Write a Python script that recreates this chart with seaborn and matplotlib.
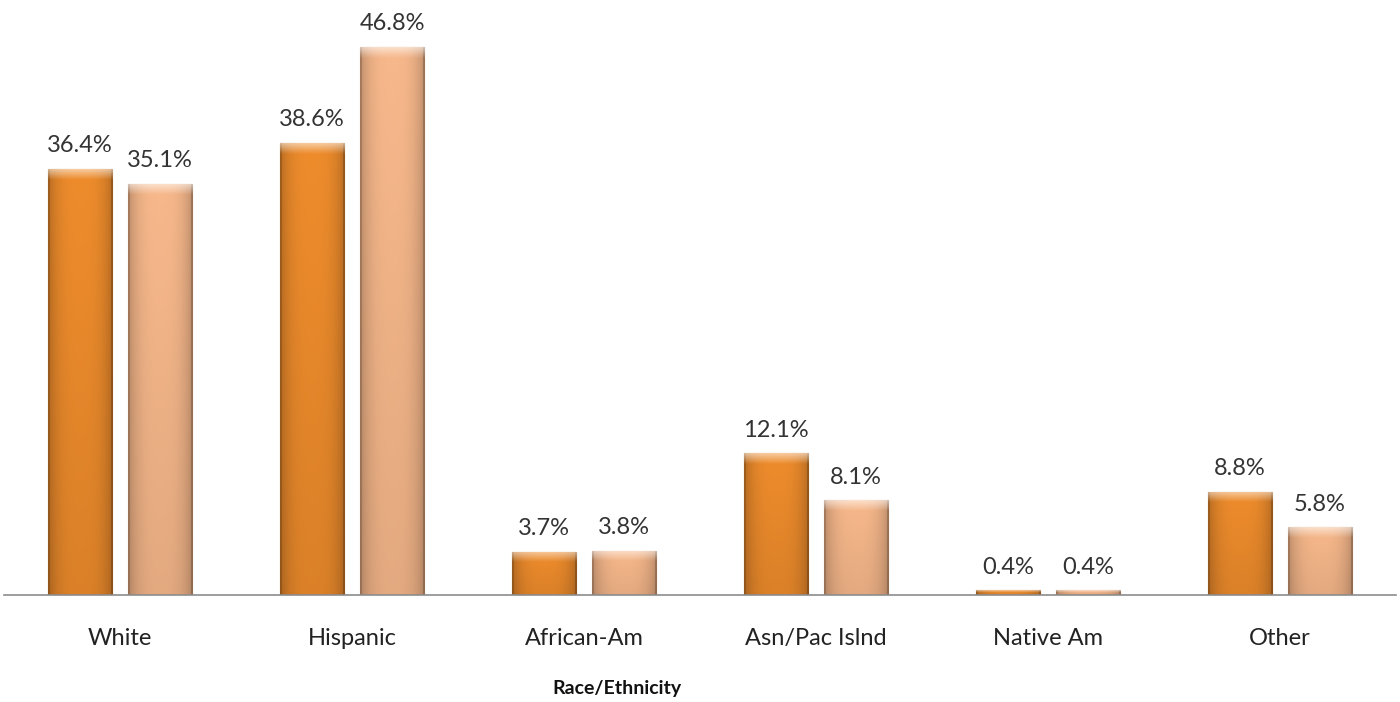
import numpy as np
import pandas as pd
import matplotlib
matplotlib.use("Agg")
import matplotlib.pyplot as plt
import seaborn as sns
from matplotlib.colors import to_rgb

categories = ["White", "Hispanic", "African-Am", "Asn/Pac Islnd", "Native Am", "Other"]
series_names = ["Group A", "Group B"]
values_a = [36.4, 38.6, 3.7, 12.1, 0.4, 8.8]
values_b = [35.1, 46.8, 3.8, 8.1, 0.4, 5.8]

df = pd.DataFrame({
    "category": categories * 2,
    "series": [series_names[0]] * len(categories) + [series_names[1]] * len(categories),
    "value": values_a + values_b,
})

sns.set_theme(style="white")
plt.rcParams["font.family"] = ["Lato", "DejaVu Sans"]

base_colors = {"Group A": "#EE8C2C", "Group B": "#F7B88B"}

fig = plt.figure(figsize=(14, 7.02), dpi=100)
ax = fig.add_axes([0.003, 0.1524, 0.994, 0.8476])

sns.barplot(data=df, x="category", y="value", hue="series", order=categories,
            hue_order=series_names, palette=base_colors, width=0.69, gap=0.2,
            legend=False, ax=ax, saturation=1)

ax.set_ylim(0, 50.8)
ax.set_xlim(-0.5, len(categories) - 0.5)


def shade(patch, color):
    """Overlay a bevelled gradient clipped to the bar."""
    x0, y0 = patch.get_x(), patch.get_y()
    w, h = patch.get_width(), patch.get_height()
    if h <= 0:
        return
    rgb = np.array(to_rgb(color))
    nx, ny = 64, 200
    xs = np.linspace(0, 1, nx)
    # darker towards the sides
    side = 1 - 0.22 * (np.abs(xs - 0.5) * 2) ** 3
    side[:2] *= 0.85
    side[-2:] *= 0.8
    img = np.ones((ny, nx, 3)) * rgb
    img *= side[None, :, None]
    # slightly darker towards the bottom
    ys = np.linspace(0, 1, ny)  # 0 = top
    vert = 1 - 0.08 * ys
    img *= vert[:, None, None]
    # light bevel along the top edge
    bevel = 0.9  # data units
    top_frac = min(bevel / h, 0.5)
    band = np.clip(1 - ys / max(top_frac, 1e-6), 0, 1)
    img = img + (1 - img) * (0.55 * band)[:, None, None]
    img = np.clip(img, 0, 1)
    im = ax.imshow(img, extent=[x0, x0 + w, y0, y0 + h], origin="upper",
                   aspect="auto", zorder=patch.get_zorder() + 0.1,
                   interpolation="bilinear")
    im.set_clip_path(patch)
    patch.set_edgecolor(rgb * 0.75)
    patch.set_linewidth(0.8)


for container, name in zip(ax.containers, series_names):
    for patch in container:
        shade(patch, base_colors[name])
    ax.bar_label(container, labels=[f"{v:.1f}%" for v in container.datavalues],
                 padding=9, fontsize=17, color="#333333")

ax.set_xlim(-0.5, len(categories) - 0.5)
ax.set_ylim(0, 50.8)

for s in ["left", "right", "top"]:
    ax.spines[s].set_visible(False)
ax.spines["bottom"].set_color("#8c8c8c")
ax.spines["bottom"].set_linewidth(1.2)
ax.set_yticks([])
ax.tick_params(axis="x", length=0, pad=24, labelsize=17, labelcolor="#222222")
ax.set_ylabel("")
ax.set_xlabel("Race/Ethnicity", fontsize=14, fontweight="bold", color="#111111")
ax.xaxis.set_label_coords(0.44, -0.142)

fig.savefig("out.png", dpi=100)
